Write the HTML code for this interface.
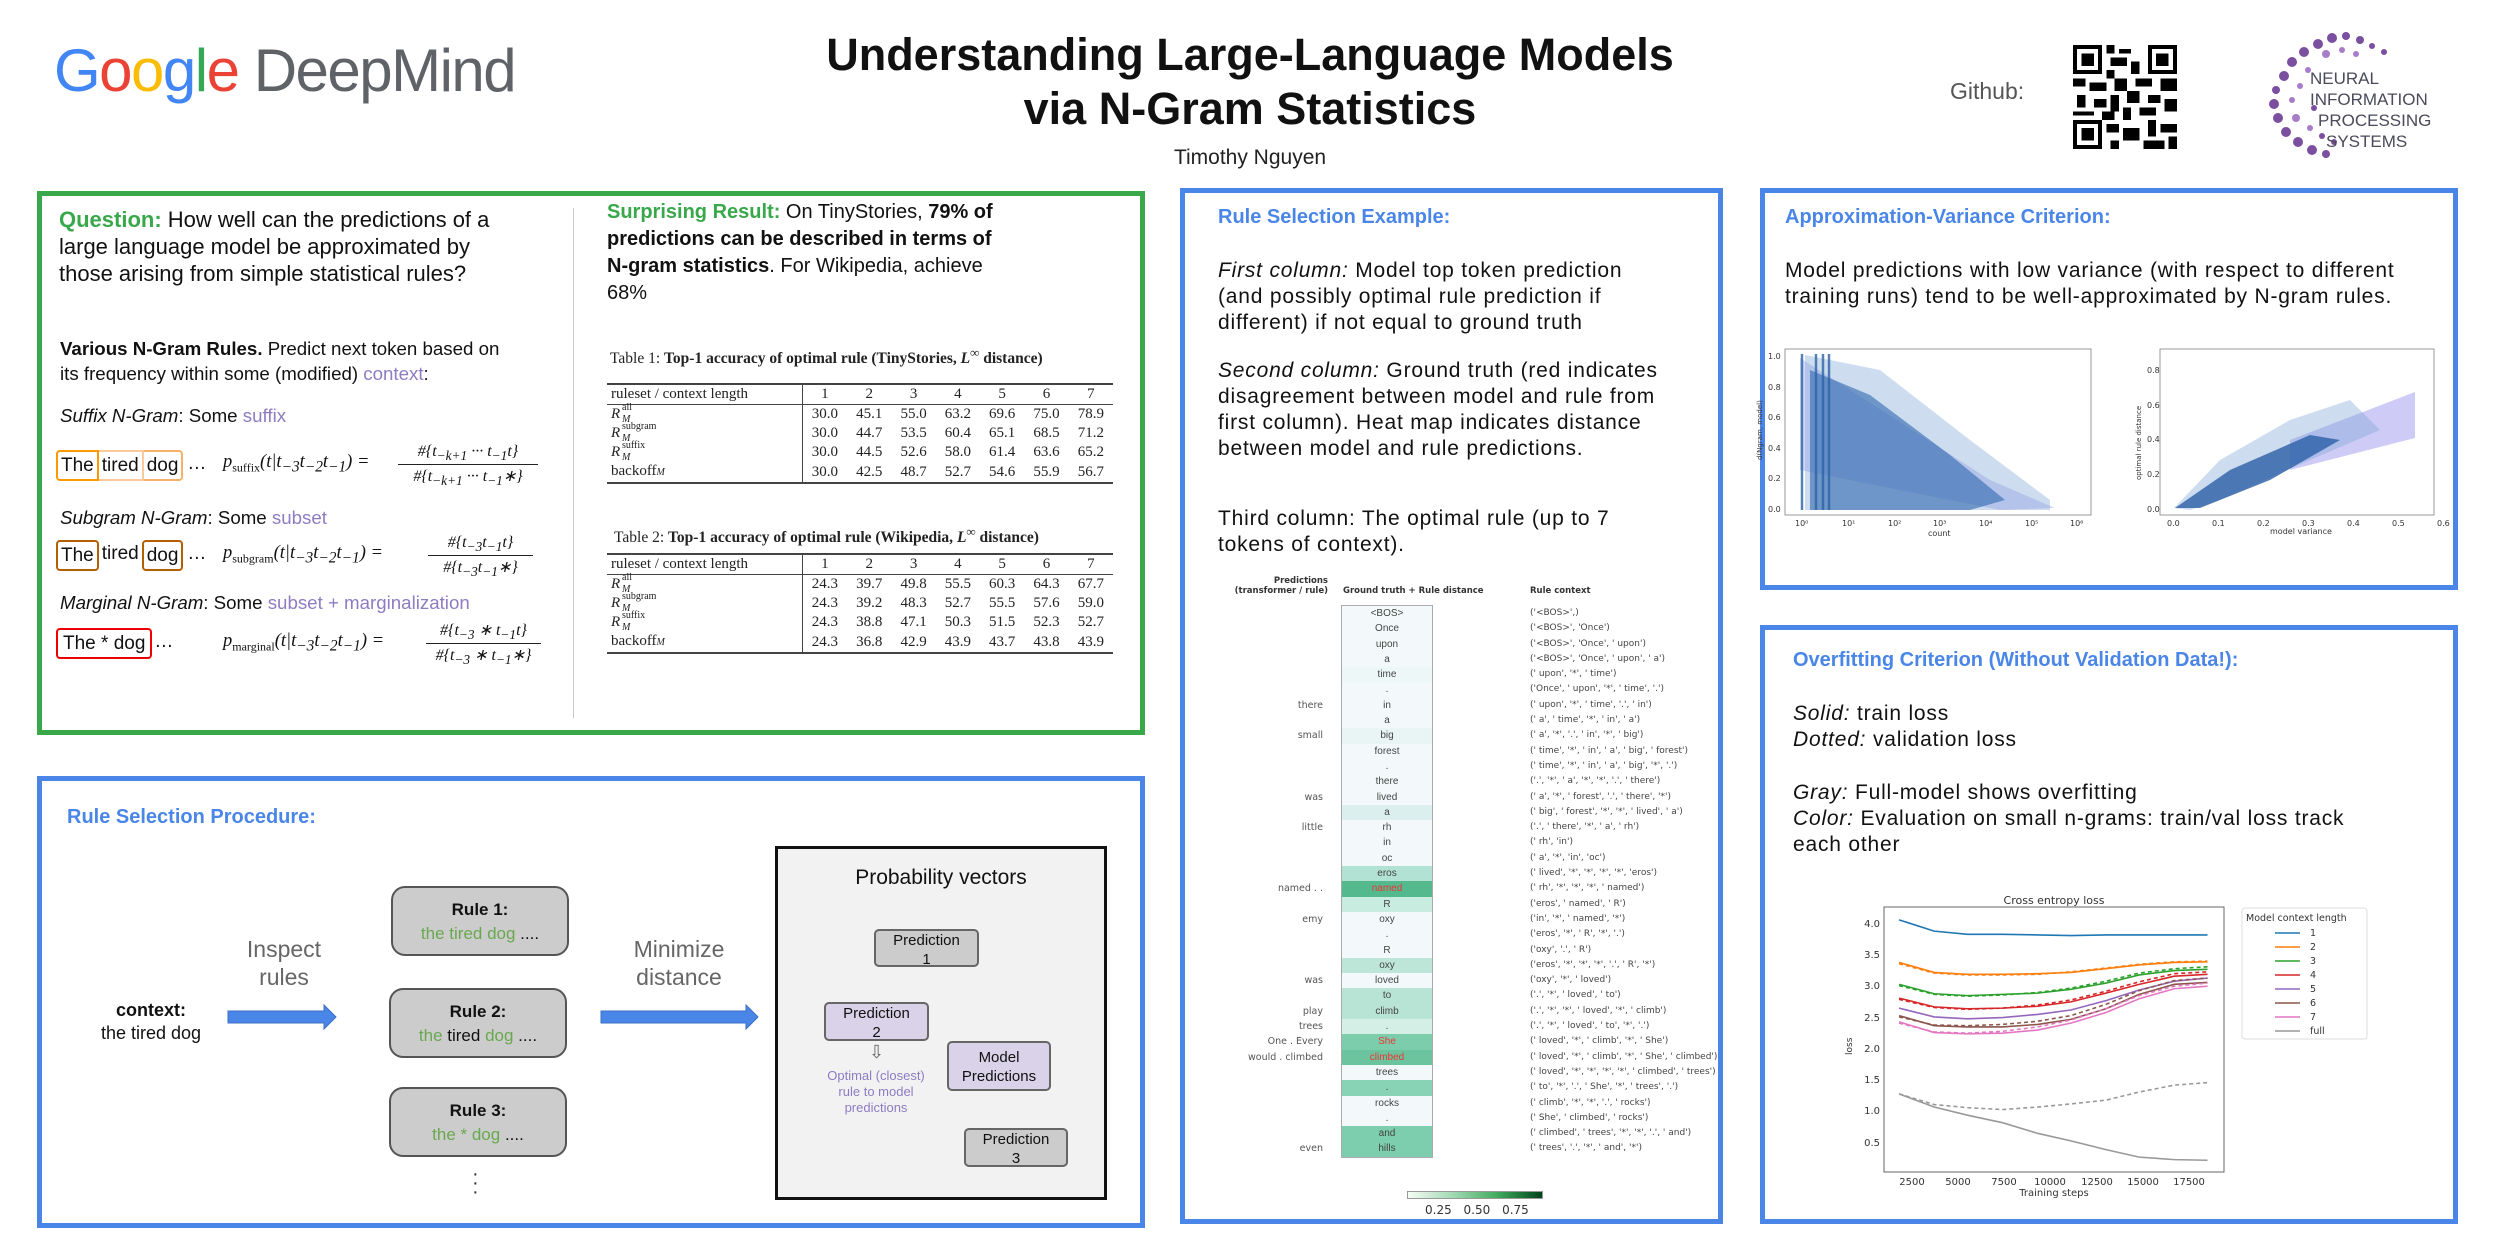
<!DOCTYPE html>
<html><head><meta charset="utf-8"><style>
*{margin:0;padding:0;box-sizing:border-box}
body{width:2500px;height:1250px;background:#fff;position:relative;overflow:hidden;font-family:"Liberation Sans",sans-serif;color:#111}
.a{position:absolute;white-space:nowrap}
.box{position:absolute;border:5px solid #4a86e8}
.h{color:#4a86e8;font-weight:bold;font-size:20px}
.pu{color:#8e7cc3}
.gr{color:#6aa84f}
.serif{font-family:"Liberation Serif",serif}
sub,sup{line-height:0}
table.tb{position:absolute;border-collapse:collapse;font-family:"Liberation Serif",serif;font-size:15px;color:#222}
table.tb td{padding:0;height:19px;line-height:19px;text-align:center;white-space:nowrap}
.rs{position:relative;display:inline-block;width:60px;height:19px;text-align:left;vertical-align:top}
.rs i{font-size:15px;position:absolute;left:0;top:0}
.rs .u{position:absolute;left:11px;top:-2px;font-size:10px;line-height:10px}
.rs .d{position:absolute;left:11px;top:10px;font-size:10px;line-height:10px;font-style:italic}
.rb{position:absolute;background:#ccc;border:2px solid #555;border-radius:14px;text-align:center;font-size:17px;line-height:24px}
.pb{position:absolute;border:2px solid #666;border-radius:5px;text-align:center;font-size:15px;line-height:19px}
.hm div{height:15.3px;font-size:10px;line-height:15.3px;text-align:center;color:#444}
.ctx div{height:15.3px;font-size:9px;line-height:15.3px;color:#444;font-family:"DejaVu Sans",sans-serif}
.prd div{height:15.3px;font-size:9.5px;line-height:15.3px;color:#555;text-align:right;font-family:"DejaVu Sans",sans-serif}
.frac{position:absolute;text-align:center;font-family:"Liberation Serif",serif;font-style:italic;font-size:16px;line-height:24px}
.frac .dn{border-top:1px solid #222}
.wide{font-size:21px;line-height:26px;letter-spacing:0.8px}
</style></head><body>

<!-- Header -->
<div class="a" style="left:54px;top:36px;font-size:60px;letter-spacing:-1.5px"><span style="color:#4285f4">G</span><span style="color:#ea4335">o</span><span style="color:#fbbc05">o</span><span style="color:#4285f4">g</span><span style="color:#34a853">l</span><span style="color:#ea4335">e</span> <span style="color:#5f6368">DeepMind</span></div>
<div class="a" style="left:0;width:2500px;text-align:center;top:28px;font-size:45px;font-weight:bold;line-height:54px">Understanding Large-Language Models<br>via N-Gram Statistics</div>
<div class="a" style="left:0;width:2500px;text-align:center;top:146px;font-size:21px;color:#222">Timothy Nguyen</div>
<div class="a" style="left:1950px;top:78px;font-size:23px;color:#555">Github:</div>
<svg class="a" style="left:2072px;top:45px" width="106" height="104" viewBox="0 0 25 25" shape-rendering="crispEdges">
<rect width="25" height="25" fill="#fff"/>
<g fill="#000">
<rect x="0" y="0" width="7" height="7"/><rect x="18" y="0" width="7" height="7"/><rect x="0" y="18" width="7" height="7"/>
</g>
<g fill="#fff"><rect x="1" y="1" width="5" height="5"/><rect x="19" y="1" width="5" height="5"/><rect x="1" y="19" width="5" height="5"/></g>
<g fill="#000"><rect x="2" y="2" width="3" height="3"/><rect x="20" y="2" width="3" height="3"/><rect x="2" y="20" width="3" height="3"/>
<rect x="8" y="0" width="2" height="2"/><rect x="11" y="1" width="3" height="1"/><rect x="9" y="3" width="4" height="2"/><rect x="14" y="4" width="2" height="3"/><rect x="8" y="6" width="2" height="2"/>
<rect x="0" y="8" width="3" height="2"/><rect x="4" y="9" width="4" height="2"/><rect x="10" y="8" width="3" height="3"/><rect x="15" y="8" width="4" height="2"/><rect x="21" y="8" width="4" height="3"/>
<rect x="1" y="12" width="2" height="3"/><rect x="5" y="13" width="3" height="2"/><rect x="9" y="12" width="2" height="4"/><rect x="13" y="11" width="3" height="3"/><rect x="18" y="12" width="3" height="2"/><rect x="22" y="13" width="3" height="3"/>
<rect x="0" y="16" width="5" height="1"/><rect x="7" y="16" width="3" height="2"/><rect x="12" y="15" width="2" height="3"/><rect x="16" y="15" width="4" height="2"/>
<rect x="8" y="19" width="3" height="2"/><rect x="12" y="20" width="4" height="3"/><rect x="18" y="18" width="2" height="4"/><rect x="21" y="19" width="4" height="2"/>
<rect x="9" y="23" width="2" height="2"/><rect x="17" y="23" width="5" height="2"/><rect x="23" y="22" width="2" height="3"/>
</g></svg>
<svg class="a" style="left:2262px;top:30px" width="190" height="132">
<g fill="#7b4fa0">
<circle cx="70" cy="8" r="5"/><circle cx="84" cy="6" r="4"/><circle cx="98" cy="10" r="4"/><circle cx="56" cy="14" r="5"/><circle cx="42" cy="22" r="5"/><circle cx="110" cy="16" r="3"/><circle cx="122" cy="22" r="3"/><circle cx="30" cy="32" r="5"/><circle cx="64" cy="24" r="4" fill="#a77cc8"/><circle cx="80" cy="20" r="3" fill="#a77cc8"/><circle cx="94" cy="24" r="3" fill="#a77cc8"/>
<circle cx="22" cy="46" r="5"/><circle cx="14" cy="60" r="4"/><circle cx="12" cy="74" r="5"/><circle cx="16" cy="88" r="5"/><circle cx="24" cy="102" r="5"/><circle cx="36" cy="112" r="5"/><circle cx="50" cy="120" r="5"/><circle cx="64" cy="124" r="4"/><circle cx="38" cy="56" r="3" fill="#a77cc8"/><circle cx="30" cy="70" r="3" fill="#a77cc8"/><circle cx="34" cy="88" r="4" fill="#a77cc8"/><circle cx="48" cy="98" r="3" fill="#a77cc8"/><circle cx="60" cy="106" r="3"/>
<circle cx="46" cy="40" r="3" fill="#a77cc8"/><circle cx="52" cy="78" r="3"/><circle cx="72" cy="112" r="3"/></g>
<g font-family="Liberation Sans,sans-serif" font-size="17" fill="#4a4a5a">
<text x="48" y="54">NEURAL</text><text x="48" y="75">INFORMATION</text><text x="56" y="96">PROCESSING</text><text x="64" y="117">SYSTEMS</text></g>
</svg>

<!-- Green box -->
<div class="a" style="left:37px;top:191px;width:1108px;height:544px;border:5px solid #38a84b"></div>
<div class="a" style="left:573px;top:208px;width:1px;height:510px;background:#ccc"></div>
<div class="a" style="left:59px;top:206px;font-size:22px;line-height:27px"><b style="color:#38a84b">Question:</b> How well can the predictions of a<br>large language model be approximated by<br>those arising from simple statistical rules?</div>
<div class="a" style="left:607px;top:199px;font-size:20px;line-height:27px"><b style="color:#38a84b">Surprising Result:</b> On TinyStories, <b>79% of</b><br><b>predictions can be described in terms of</b><br><b>N-gram statistics</b>. For Wikipedia, achieve<br>68%</div>
<div class="a" style="left:60px;top:336px;font-size:18.7px;line-height:25px"><b>Various N-Gram Rules.</b> Predict next token based on<br>its frequency within some (modified) <span class="pu">context</span>:</div>
<div class="a" style="left:60px;top:405px;font-size:18.7px"><i>Suffix N-Gram</i>: Some <span class="pu">suffix</span></div>
<div class="a" style="left:60px;top:507px;font-size:18.7px"><i>Subgram N-Gram</i>: Some <span class="pu">subset</span></div>
<div class="a" style="left:60px;top:592px;font-size:18.7px"><i>Marginal N-Gram</i>: Some <span class="pu">subset + marginalization</span></div>

<div class="a" style="left:56px;top:450px;height:31px;font-size:19px;line-height:27px;display:flex">
<span style="border:2px solid #ff9900;border-radius:4px 0 0 4px;padding:0 3px">The</span><span style="border:2px solid #f9cb9c;border-left:none;padding:0 3px">tired</span><span style="border:2px solid #f6b26b;border-left:none;border-radius:0 4px 4px 0;padding:0 3px">dog</span><span style="padding-left:4px">…</span></div>
<div class="a" style="left:56px;top:540px;height:31px;font-size:19px;line-height:27px;display:flex">
<span style="border:2px solid #b45f06;border-radius:4px;padding:0 3px">The</span><span style="padding:0 3px">tired</span><span style="border:2px solid #b45f06;border-radius:4px;padding:0 3px">dog</span><span style="padding-left:4px">…</span></div>
<div class="a" style="left:56px;top:628px;height:31px;font-size:19px;line-height:27px;display:flex">
<span style="border:2px solid #e00;border-radius:4px;padding:0 5px">The * dog</span><span style="padding-left:2px">…</span></div>

<div class="a serif" style="left:223px;top:452px;font-size:18.5px;font-style:italic">p<sub style="font-style:normal;font-size:12px">suffix</sub>(t|t<sub>−3</sub>t<sub>−2</sub>t<sub>−1</sub>) =</div>
<div class="frac" style="left:398px;top:440px;width:140px">#{t<sub>−k+1</sub> ··· t<sub>−1</sub>t}<div class="dn">#{t<sub>−k+1</sub> ··· t<sub>−1</sub>∗}</div></div>
<div class="a serif" style="left:223px;top:543px;font-size:18.5px;font-style:italic">p<sub style="font-style:normal;font-size:12px">subgram</sub>(t|t<sub>−3</sub>t<sub>−2</sub>t<sub>−1</sub>) =</div>
<div class="frac" style="left:428px;top:531px;width:105px">#{t<sub>−3</sub>t<sub>−1</sub>t}<div class="dn">#{t<sub>−3</sub>t<sub>−1</sub>∗}</div></div>
<div class="a serif" style="left:223px;top:631px;font-size:18.5px;font-style:italic">p<sub style="font-style:normal;font-size:12px">marginal</sub>(t|t<sub>−3</sub>t<sub>−2</sub>t<sub>−1</sub>) =</div>
<div class="frac" style="left:426px;top:619px;width:115px">#{t<sub>−3</sub> ∗ t<sub>−1</sub>t}<div class="dn">#{t<sub>−3</sub> ∗ t<sub>−1</sub>∗}</div></div>

<div class="a serif" style="left:610px;top:350px;font-size:15.5px;color:#222">Table 1: <b>Top-1 accuracy of optimal rule (TinyStories, <i>L</i><sup>∞</sup> distance)</b></div>
<table class="tb" style="left:607px;top:383px;width:506px;border-top:2px solid #444;border-bottom:2px solid #444">
<tr style="border-bottom:1.5px solid #444"><td style="text-align:left;width:195px;padding-left:4px;border-right:1px solid #444">ruleset / context length</td><td>1</td><td>2</td><td>3</td><td>4</td><td>5</td><td>6</td><td>7</td></tr>
<tr><td style="text-align:left;padding-left:4px;border-right:1px solid #444"><span class="rs"><i>R</i><span class="u">all</span><span class="d">M</span></span></td><td>30.0</td><td>45.1</td><td>55.0</td><td>63.2</td><td>69.6</td><td>75.0</td><td>78.9</td></tr>
<tr><td style="text-align:left;padding-left:4px;border-right:1px solid #444"><span class="rs"><i>R</i><span class="u">subgram</span><span class="d">M</span></span></td><td>30.0</td><td>44.7</td><td>53.5</td><td>60.4</td><td>65.1</td><td>68.5</td><td>71.2</td></tr>
<tr><td style="text-align:left;padding-left:4px;border-right:1px solid #444"><span class="rs"><i>R</i><span class="u">suffix</span><span class="d">M</span></span></td><td>30.0</td><td>44.5</td><td>52.6</td><td>58.0</td><td>61.4</td><td>63.6</td><td>65.2</td></tr>
<tr><td style="text-align:left;padding-left:4px;border-right:1px solid #444">backoff<i style="font-size:10px">M</i></td><td>30.0</td><td>42.5</td><td>48.7</td><td>52.7</td><td>54.6</td><td>55.9</td><td>56.7</td></tr>
</table>
<div class="a serif" style="left:614px;top:529px;font-size:15.5px;color:#222">Table 2: <b>Top-1 accuracy of optimal rule (Wikipedia, <i>L</i><sup>∞</sup> distance)</b></div>
<table class="tb" style="left:607px;top:553px;width:506px;border-top:2px solid #444;border-bottom:2px solid #444">
<tr style="border-bottom:1.5px solid #444"><td style="text-align:left;width:195px;padding-left:4px;border-right:1px solid #444">ruleset / context length</td><td>1</td><td>2</td><td>3</td><td>4</td><td>5</td><td>6</td><td>7</td></tr>
<tr><td style="text-align:left;padding-left:4px;border-right:1px solid #444"><span class="rs"><i>R</i><span class="u">all</span><span class="d">M</span></span></td><td>24.3</td><td>39.7</td><td>49.8</td><td>55.5</td><td>60.3</td><td>64.3</td><td>67.7</td></tr>
<tr><td style="text-align:left;padding-left:4px;border-right:1px solid #444"><span class="rs"><i>R</i><span class="u">subgram</span><span class="d">M</span></span></td><td>24.3</td><td>39.2</td><td>48.3</td><td>52.7</td><td>55.5</td><td>57.6</td><td>59.0</td></tr>
<tr><td style="text-align:left;padding-left:4px;border-right:1px solid #444"><span class="rs"><i>R</i><span class="u">suffix</span><span class="d">M</span></span></td><td>24.3</td><td>38.8</td><td>47.1</td><td>50.3</td><td>51.5</td><td>52.3</td><td>52.7</td></tr>
<tr><td style="text-align:left;padding-left:4px;border-right:1px solid #444">backoff<i style="font-size:10px">M</i></td><td>24.3</td><td>36.8</td><td>42.9</td><td>43.9</td><td>43.7</td><td>43.8</td><td>43.9</td></tr>
</table>

<!-- Bottom-left box -->
<div class="box" style="left:37px;top:776px;width:1108px;height:452px"></div>
<div class="a h" style="left:67px;top:806px">Rule Selection Procedure:</div>
<div class="a" style="left:71px;top:999px;width:160px;text-align:center;font-size:18px;line-height:23px"><b>context:</b><br>the tired dog</div>
<svg class="a" style="left:226px;top:1003px" width="540" height="30"><polygon points="2,8 98,8 98,2 110,14 98,26 98,20 2,20" fill="#4a86e8" stroke="#3c6fc2"/><polygon points="375,8 520,8 520,2 532,14 520,26 520,20 375,20" fill="#4a86e8" stroke="#3c6fc2"/></svg>
<div class="a" style="left:234px;top:935px;width:100px;text-align:center;font-size:23px;line-height:28px;color:#666">Inspect<br>rules</div>
<div class="a" style="left:619px;top:935px;width:120px;text-align:center;font-size:23px;line-height:28px;color:#666">Minimize<br>distance</div>
<div class="rb" style="left:391px;top:886px;width:178px;height:70px;padding-top:10px"><b>Rule 1:</b><br><span class="gr">the tired dog</span> ....</div>
<div class="rb" style="left:389px;top:988px;width:178px;height:70px;padding-top:10px"><b>Rule 2:</b><br><span class="gr">the</span> tired <span class="gr">dog</span> ....</div>
<div class="rb" style="left:389px;top:1087px;width:178px;height:70px;padding-top:10px"><b>Rule 3:</b><br><span class="gr">the * dog</span> ....</div>
<div class="a" style="left:472px;top:1170px;font-size:20px;line-height:9px;color:#333">·<br>·<br>·</div>
<div class="a" style="left:775px;top:846px;width:332px;height:354px;border:3px solid #111;background:#f2f2f2"></div>
<div class="a" style="left:775px;top:866px;width:332px;text-align:center;font-size:21px">Probability vectors</div>
<div class="pb" style="left:874px;top:929px;width:105px;height:38px;background:#ccc">Prediction<br>1</div>
<div class="pb" style="left:824px;top:1002px;width:105px;height:39px;background:#d9d2e9">Prediction<br>2</div>
<div class="a" style="left:869px;top:1042px;font-size:18px;color:#666">⇩</div>
<div class="a" style="left:806px;top:1068px;width:140px;text-align:center;font-size:13px;line-height:16px;color:#8e7cc3">Optimal (closest)<br>rule to model<br>predictions</div>
<div class="pb" style="left:947px;top:1041px;width:104px;height:50px;background:#d9d2e9;padding-top:5px">Model<br>Predictions</div>
<div class="pb" style="left:964px;top:1128px;width:104px;height:39px;background:#ccc">Prediction<br>3</div>

<!-- Middle box -->
<div class="box" style="left:1180px;top:188px;width:543px;height:1036px"></div>
<div class="a h" style="left:1218px;top:206px">Rule Selection Example:</div>
<div class="a wide" style="left:1218px;top:258px"><i>First column:</i> Model top token prediction<br>(and possibly optimal rule prediction if<br>different) if not equal to ground truth</div>
<div class="a wide" style="left:1218px;top:358px"><i>Second column:</i> Ground truth (red indicates<br>disagreement between model and rule from<br>first column). Heat map indicates distance<br>between model and rule predictions.</div>
<div class="a wide" style="left:1218px;top:506px">Third column: The optimal rule (up to 7<br>tokens of context).</div>
<div class="a" style="left:1228px;top:576px;width:100px;text-align:right;font-size:8.5px;line-height:10px;font-weight:bold;color:#333;font-family:'DejaVu Sans',sans-serif">Predictions<br>(transformer / rule)</div>
<div class="a" style="left:1343px;top:586px;font-size:8.5px;font-weight:bold;color:#333;font-family:'DejaVu Sans',sans-serif">Ground truth + Rule distance</div>
<div class="a" style="left:1530px;top:586px;font-size:8.5px;font-weight:bold;color:#333;font-family:'DejaVu Sans',sans-serif">Rule context</div>
<div class="a prd" style="left:1220px;top:606px;width:103px">
<div></div><div></div><div></div><div></div><div></div><div></div><div>there</div><div></div><div>small</div><div></div><div></div><div></div><div>was</div><div></div><div>little</div><div></div><div></div><div></div><div>named . .</div><div></div><div>emy</div><div></div><div></div><div></div><div>was</div><div></div><div>play</div><div>trees</div><div>One .  Every</div><div>would .  climbed</div><div></div><div></div><div></div><div></div><div></div><div>even</div></div>
<div class="a hm" style="left:1341px;top:605px;width:92px;border:1.5px solid #aaa">
<div style="background:#f3f9fa">&lt;BOS&gt;</div><div style="background:#f3f9fa">Once</div><div style="background:#f3f9fa">upon</div><div style="background:#f3f9fa">a</div><div style="background:#eef7f7">time</div><div style="background:#f3f9fa">.</div><div style="background:#f3f9fa">in</div><div style="background:#f3f9fa">a</div><div style="background:#e9f5f5">big</div><div style="background:#f3f9fa">forest</div><div style="background:#f3f9fa">.</div><div style="background:#f3f9fa">there</div><div style="background:#f3f9fa">lived</div><div style="background:#dbf0ee">a</div><div style="background:#f3f9fa">rh</div><div style="background:#f3f9fa">in</div><div style="background:#f3f9fa">oc</div><div style="background:#b2e2d3">eros</div><div style="background:#55b98e;color:#e33">named</div><div style="background:#c9ece0">R</div><div style="background:#f3f9fa">oxy</div><div style="background:#f3f9fa">.</div><div style="background:#f3f9fa">R</div><div style="background:#bde6d9">oxy</div><div style="background:#f3f9fa">loved</div><div style="background:#b8e4d6">to</div><div style="background:#b8e4d6">climb</div><div style="background:#d4efe6">.</div><div style="background:#7ccdab;color:#e33">She</div><div style="background:#6cc49f;color:#e33">climbed</div><div style="background:#f3f9fa">trees</div><div style="background:#88d3b5">.</div><div style="background:#f3f9fa">rocks</div><div style="background:#f3f9fa">.</div><div style="background:#7dceae">and</div><div style="background:#7dceae">hills</div></div>
<div class="a ctx" style="left:1530px;top:606px">
<div>('&lt;BOS&gt;',)</div><div>('&lt;BOS&gt;', 'Once')</div><div>('&lt;BOS&gt;', 'Once', ' upon')</div><div>('&lt;BOS&gt;', 'Once', ' upon', ' a')</div><div>(' upon', '*', ' time')</div><div>('Once', ' upon', '*', ' time', '.')</div><div>(' upon', '*', ' time', '.', ' in')</div><div>(' a', ' time', '*', ' in', ' a')</div><div>(' a', '*', '.', ' in', '*', ' big')</div><div>(' time', '*', ' in', ' a', ' big', ' forest')</div><div>(' time', '*', ' in', ' a', ' big', '*', '.')</div><div>('.', '*', ' a', '*', '*', '.', ' there')</div><div>(' a', '*', ' forest', '.', ' there', '*')</div><div>(' big', ' forest', '*', '*', ' lived', ' a')</div><div>('.', ' there', '*', ' a', ' rh')</div><div>(' rh', 'in')</div><div>(' a', '*', 'in', 'oc')</div><div>(' lived', '*', '*', '*', '*', 'eros')</div><div>(' rh', '*', '*', '*', ' named')</div><div>('eros', ' named', ' R')</div><div>('in', '*', ' named', '*')</div><div>('eros', '*', ' R', '*', '.')</div><div>('oxy', '.', ' R')</div><div>('eros', '*', '*', '*', '.', ' R', '*')</div><div>('oxy', '*', ' loved')</div><div>('.', '*', ' loved', ' to')</div><div>('.', '*', '*', ' loved', '*', ' climb')</div><div>('.', '*', ' loved', ' to', '*', '.')</div><div>(' loved', '*', ' climb', '*', ' She')</div><div>(' loved', '*', ' climb', '*', ' She', ' climbed')</div><div>(' loved', '*', '*', '*', '*', ' climbed', ' trees')</div><div>(' to', '*', '.', ' She', '*', ' trees', '.')</div><div>(' climb', '*', '*', '.', ' rocks')</div><div>(' She', ' climbed', ' rocks')</div><div>(' climbed', ' trees', '*', '*', '.', ' and')</div><div>(' trees', '.', '*', ' and', '*')</div></div>
<div class="a" style="left:1407px;top:1191px;width:136px;height:8px;border:1px solid #999;background:linear-gradient(to right,#f7fcf5,#a1d9b4,#41ab5d,#00441b)"></div>
<div class="a" style="left:1425px;top:1203px;font-size:12px;color:#333;font-family:'DejaVu Sans',sans-serif;word-spacing:8px">0.25 0.50 0.75</div>

<!-- Right top -->
<div class="box" style="left:1760px;top:188px;width:698px;height:402px"></div>
<div class="a h" style="left:1785px;top:206px">Approximation-Variance Criterion:</div>
<div class="a wide" style="left:1785px;top:258px">Model predictions with low variance (with respect to different<br>training runs) tend to be well-approximated by N-gram rules.</div>
<svg class="a" style="left:1750px;top:340px" width="700" height="210" font-family="DejaVu Sans,sans-serif" font-size="8" fill="#333">
<rect x="35" y="9" width="306" height="166" fill="#fff" stroke="#999"/>
<polygon points="50,18 50,130 150,150 250,170 305,168 240,140 100,50" fill="#c9c7f5" opacity="0.7"/>
<polygon points="55,15 130,30 220,100 300,160 300,170 55,170" fill="#6f9fd0" opacity="0.35"/>
<polygon points="60,30 120,55 200,115 255,160 220,170 60,170" fill="#2f67ad" opacity="0.6"/>
<g stroke="#2c64a6" stroke-width="2.5" opacity="0.8"><line x1="52" y1="14" x2="52" y2="170"/><line x1="66" y1="14" x2="66" y2="170"/><line x1="73" y1="14" x2="73" y2="170"/><line x1="79" y1="14" x2="79" y2="170"/></g>
<text x="18" y="19">1.0</text><text x="18" y="50">0.8</text><text x="18" y="80">0.6</text><text x="18" y="111">0.4</text><text x="18" y="141">0.2</text><text x="18" y="172">0.0</text>
<text x="45" y="186">10⁰</text><text x="92" y="186">10¹</text><text x="138" y="186">10²</text><text x="183" y="186">10³</text><text x="229" y="186">10⁴</text><text x="275" y="186">10⁵</text><text x="320" y="186">10⁶</text>
<text x="178" y="196">count</text>
<text transform="translate(12,120) rotate(-90)" font-size="7">d(Ngram, model)</text>
<rect x="410" y="9" width="274" height="166" fill="#fff" stroke="#999"/>
<polygon points="540,100 665,52 665,98 540,130" fill="#c9c7f5" opacity="0.9"/>
<polygon points="424,168 470,120 540,80 600,60 630,90 560,120 470,160 440,170" fill="#6f9fd0" opacity="0.35"/>
<polygon points="425,168 480,130 560,95 590,100 520,140 450,168" fill="#2a5fa6" opacity="0.8"/>
<text x="397" y="33">0.8</text><text x="397" y="68">0.6</text><text x="397" y="102">0.4</text><text x="397" y="137">0.2</text><text x="397" y="172">0.0</text>
<text x="417" y="186">0.0</text><text x="462" y="186">0.1</text><text x="507" y="186">0.2</text><text x="552" y="186">0.3</text><text x="597" y="186">0.4</text><text x="642" y="186">0.5</text><text x="687" y="186">0.6</text>
<text x="520" y="194">model variance</text>
<text transform="translate(391,140) rotate(-90)" font-size="7">optimal rule distance</text>
</svg>

<!-- Right bottom -->
<div class="box" style="left:1760px;top:625px;width:698px;height:599px"></div>
<div class="a h" style="left:1793px;top:649px">Overfitting Criterion (Without Validation Data!):</div>
<div class="a wide" style="left:1793px;top:701px"><i>Solid:</i> train loss<br><i>Dotted:</i> validation loss</div>
<div class="a wide" style="left:1793px;top:780px"><i>Gray:</i> Full-model shows overfitting<br><i>Color:</i> Evaluation on small n-grams: train/val loss track<br>each other</div>
<svg class="a" style="left:1820px;top:890px" width="620" height="320" font-family="DejaVu Sans,sans-serif" font-size="10" fill="#333">
<text x="234" y="14" font-size="11" text-anchor="middle">Cross entropy loss</text>
<rect x="64" y="17" width="340" height="265" fill="#fff" stroke="#666"/>
<g text-anchor="end"><text x="60" y="37">4.0</text><text x="60" y="68">3.5</text><text x="60" y="99">3.0</text><text x="60" y="131">2.5</text><text x="60" y="162">2.0</text><text x="60" y="193">1.5</text><text x="60" y="224">1.0</text><text x="60" y="256">0.5</text></g>
<g text-anchor="middle"><text x="92" y="295">2500</text><text x="138" y="295">5000</text><text x="184" y="295">7500</text><text x="230" y="295">10000</text><text x="277" y="295">12500</text><text x="323" y="295">15000</text><text x="369" y="295">17500</text></g>
<text x="234" y="306" font-size="10" text-anchor="middle">Training steps</text>
<text transform="translate(32,165) rotate(-90)" font-size="9">loss</text>
<g transform="translate(92 33) scale(0.01847 -62.6) translate(-2500 -4)" fill="none" stroke-width="1.6">
<polyline vector-effect="non-scaling-stroke" stroke="#1f77b4" points="1800,4.05 3700,3.87 5500,3.82 7400,3.82 9300,3.81 11100,3.8 13000,3.81 14800,3.81 16700,3.81 18500,3.81"/>
<polyline vector-effect="non-scaling-stroke" stroke="#ff7f0e" points="1800,3.37 3700,3.21 5500,3.18 7400,3.18 9300,3.19 11100,3.21 13000,3.27 14800,3.33 16700,3.37 18500,3.38"/>
<polyline vector-effect="non-scaling-stroke" stroke="#2ca02c" points="1800,3.02 3700,2.87 5500,2.84 7400,2.86 9300,2.88 11100,2.94 13000,3.04 14800,3.17 16700,3.24 18500,3.26"/>
<polyline vector-effect="non-scaling-stroke" stroke="#d62728" points="1800,2.8 3700,2.66 5500,2.63 7400,2.64 9300,2.67 11100,2.74 13000,2.88 14800,3.02 16700,3.15 18500,3.18"/>
<polyline vector-effect="non-scaling-stroke" stroke="#9467bd" points="1800,2.64 3700,2.5 5500,2.47 7400,2.49 9300,2.54 11100,2.61 13000,2.76 14800,2.93 16700,3.07 18500,3.12"/>
<polyline vector-effect="non-scaling-stroke" stroke="#8c564b" points="1800,2.52 3700,2.36 5500,2.34 7400,2.34 9300,2.38 11100,2.46 13000,2.63 14800,2.86 16700,3.02 18500,3.05"/>
<polyline vector-effect="non-scaling-stroke" stroke="#e377c2" points="1800,2.42 3700,2.25 5500,2.23 7400,2.24 9300,2.29 11100,2.40 13000,2.57 14800,2.79 16700,2.95 18500,2.99"/>
<g stroke-dasharray="4 3">
<polyline vector-effect="non-scaling-stroke" stroke="#ff7f0e" points="1800,3.35 3700,3.2 5500,3.17 7400,3.17 9300,3.18 11100,3.22 13000,3.28 14800,3.34 16700,3.38 18500,3.39"/>
<polyline vector-effect="non-scaling-stroke" stroke="#2ca02c" points="1800,3.0 3700,2.86 5500,2.83 7400,2.85 9300,2.89 11100,2.96 13000,3.07 14800,3.2 16700,3.27 18500,3.3"/>
<polyline vector-effect="non-scaling-stroke" stroke="#d62728" points="1800,2.78 3700,2.65 5500,2.62 7400,2.64 9300,2.69 11100,2.77 13000,2.91 14800,3.06 16700,3.19 18500,3.22"/>
<polyline vector-effect="non-scaling-stroke" stroke="#8c564b" points="1800,2.5 3700,2.37 5500,2.36 7400,2.38 9300,2.43 11100,2.52 13000,2.70 14800,2.92 16700,3.08 18500,3.12"/>
<polyline vector-effect="non-scaling-stroke" stroke="#e377c2" points="1800,2.4 3700,2.26 5500,2.24 7400,2.27 9300,2.34 11100,2.45 13000,2.63 14800,2.84 16700,2.99 18500,3.04"/>
<polyline vector-effect="non-scaling-stroke" stroke="#999" points="1800,1.27 3700,1.1 5500,1.05 7400,1.02 9300,1.06 11100,1.11 13000,1.17 14800,1.3 16700,1.41 18500,1.45"/>
</g>
<polyline vector-effect="non-scaling-stroke" stroke="#999" points="1800,1.27 3700,1.06 5500,0.93 7400,0.81 9300,0.64 11100,0.52 13000,0.38 14800,0.26 16700,0.22 18500,0.21"/>
</g>
<rect x="422" y="18" width="125" height="131" fill="#fff" stroke="#ddd" rx="3"/>
<text x="426" y="31" font-size="9.5">Model context length</text>
<g stroke-width="1.6">
<line x1="455" y1="43" x2="480" y2="43" stroke="#1f77b4"/><line x1="455" y1="57" x2="480" y2="57" stroke="#ff7f0e"/><line x1="455" y1="71" x2="480" y2="71" stroke="#2ca02c"/><line x1="455" y1="85" x2="480" y2="85" stroke="#d62728"/><line x1="455" y1="99" x2="480" y2="99" stroke="#9467bd"/><line x1="455" y1="113" x2="480" y2="113" stroke="#8c564b"/><line x1="455" y1="127" x2="480" y2="127" stroke="#e377c2"/><line x1="455" y1="141" x2="480" y2="141" stroke="#999"/></g>
<g font-size="9.5"><text x="490" y="46">1</text><text x="490" y="60">2</text><text x="490" y="74">3</text><text x="490" y="88">4</text><text x="490" y="102">5</text><text x="490" y="116">6</text><text x="490" y="130">7</text><text x="490" y="144">full</text></g>
</svg>
</body></html>
